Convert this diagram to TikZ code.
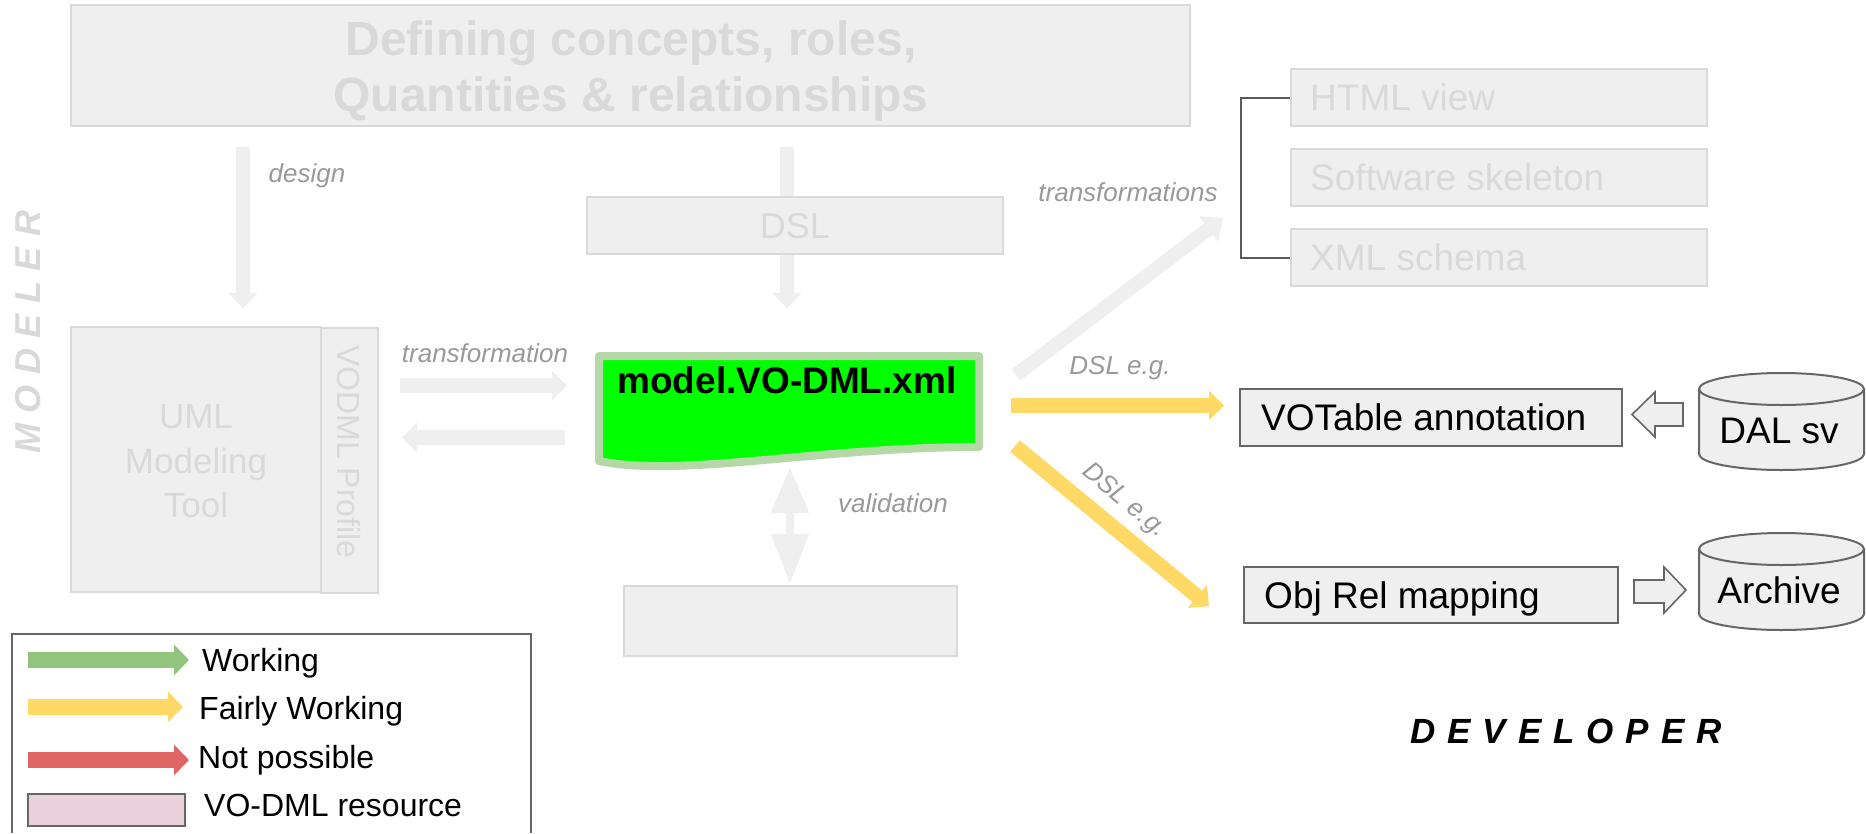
\documentclass[tikz,border=0pt]{standalone}
\usepackage{fontspec}
\setmainfont{Liberation Sans}
\usetikzlibrary{arrows.meta}
\definecolor{ghostfill}{HTML}{EFEFEF}
\definecolor{ghostline}{HTML}{D9D9D9}
\definecolor{labelgray}{HTML}{999999}
\definecolor{darkline}{HTML}{666666}
\definecolor{yellowarrow}{HTML}{FFD966}
\definecolor{greenarrow}{HTML}{93C47D}
\definecolor{redarrow}{HTML}{E06666}
\definecolor{docgreen}{HTML}{00FF00}
\definecolor{docborder}{HTML}{B6D7A8}
\definecolor{pinkres}{HTML}{EAD1DC}
\definecolor{bracketgray}{HTML}{595959}
\begin{document}
\begin{tikzpicture}[x=1pt,y=-1pt,
  ghostbox/.style={draw=ghostline, fill=ghostfill, line width=2pt, inner sep=0pt},
  darkbox/.style={draw=darkline, fill=ghostfill, line width=2pt, inner sep=0pt},
  ghosttext/.style={text=ghostline, inner sep=0pt},
  lbl/.style={text=labelgray, font=\fontsize{26}{30}\selectfont\itshape, inner sep=0pt},
  blacktext/.style={text=black, inner sep=0pt, font=\fontsize{37}{44}\selectfont},
  legtext/.style={text=black, inner sep=0pt, anchor=west, font=\fontsize{32}{38}\selectfont},
  grayarrow/.style={draw=ghostfill, line width=14pt, -{Triangle[length=15pt,width=29pt]}},
  yelarrow/.style={draw=yellowarrow, line width=15pt, -{Triangle[length=15pt,width=29pt]}},
  legarrow/.style={line width=16pt, -{Triangle[length=15pt,width=30pt]}},
  hollow/.style={draw=darkline, fill=ghostfill, line width=1.6pt, line join=miter},
  cyl/.style={draw=darkline, fill=ghostfill, line width=2pt}
]
\fill[white] (0,0) rectangle (1866,833);
\useasboundingbox (0,0) rectangle (1866,833);

% ---------- coordinates for connectors ----------
\coordinate (designS) at (243,147);
\coordinate (designE) at (243,308);
\coordinate (dslS) at (787,147);
\coordinate (dslE) at (787,308);
\coordinate (trS) at (400,385.5);
\coordinate (trE) at (567,385.5);
\coordinate (bkS) at (565,437.5);
\coordinate (bkE) at (402,437.5);
\coordinate (valS) at (790,467);
\coordinate (valE) at (790,584);
\coordinate (tfS) at (1016,375);
\coordinate (tfE) at (1223,218);
\coordinate (yhS) at (1011,405.5);
\coordinate (yhE) at (1224,405.5);
\coordinate (ydS) at (1015,446);
\coordinate (ydE) at (1209,606);

% ---------- gray arrows (drawn under boxes) ----------
\draw[grayarrow] (designS) -- (designE);
\draw[grayarrow] (dslS) -- (dslE);
\draw[grayarrow, line width=15pt] (trS) -- (trE);
\draw[grayarrow, line width=15pt] (bkS) -- (bkE);
\draw[grayarrow, -{Triangle[length=18pt,width=31pt]}] (tfS) -- (tfE);
\draw[draw=ghostfill, line width=8pt, {Triangle[length=46pt,width=36pt]}-{Triangle[length=50pt,width=36pt]}] (valS) -- (valE);

% ---------- top box ----------
\node[ghostbox, minimum width=1119pt, minimum height=121pt] (top) at (630.5,65.5) {};
\node[ghosttext, anchor=base, font=\fontsize{48}{56}\selectfont\bfseries] (topl1) at (631,55) {Defining concepts, roles,};
\node[ghosttext, anchor=base, font=\fontsize{48}{56}\selectfont\bfseries] (topl2) at (631,111) {Quantities \& relationships};

\node[lbl] (designlbl) at (307,176) {design};

% ---------- DSL box ----------
\node[ghostbox, minimum width=416pt, minimum height=57pt] (dsl) at (795,225.5) {};
\node[ghosttext, anchor=base, font=\fontsize{36}{42}\selectfont] (dsltxt) at (795,238) {DSL};

% ---------- MODELER ----------
\node[ghosttext, rotate=90, font=\fontsize{36}{40}\selectfont\bfseries\itshape] (modeler) at (28,332)
  {M\hspace{10.5pt}O\hspace{10.5pt}D\hspace{10.5pt}E\hspace{10.5pt}L\hspace{10.5pt}E\hspace{10.5pt}R};

% ---------- UML box ----------
\node[ghostbox, minimum width=250pt, minimum height=265pt] (uml) at (196,459.5) {};
\node[ghostbox, minimum width=57pt, minimum height=265pt] (profile) at (349.5,460.5) {};
\node[ghosttext, anchor=base, font=\fontsize{35}{42}\selectfont] (uml1) at (196,428) {UML};
\node[ghosttext, anchor=base, font=\fontsize{35}{42}\selectfont] (uml2) at (196,473) {Modeling};
\node[ghosttext, anchor=base, font=\fontsize{35}{42}\selectfont] (uml3) at (196,517) {Tool};
\node[ghosttext, rotate=-90, font=\fontsize{32}{38}\selectfont] (proftxt) at (349,452) {VODML Profile};

\node[lbl] (trlbl) at (485,353) {transformation};

% ---------- model document ----------
\draw[line width=8pt, draw=docborder, fill=docgreen, line join=round]
  (599,356) -- (979,356) -- (979,447) .. controls (820,447) and (680,478) .. (599,461) -- cycle;
\node[inner sep=0pt, anchor=base, font=\fontsize{37}{44}\selectfont\bfseries] (doc) at (787,393) {model.VO-DML.xml};

\node[lbl] (vallbl) at (893,503) {validation};
\node[ghostbox, minimum width=333pt, minimum height=70pt] (valbox) at (790.5,621) {};

% ---------- transformations targets ----------
\node[lbl] (tflbl) at (1128,192) {transformations};
\node[ghostbox, minimum width=416pt, minimum height=57pt] (html) at (1499,97.5) {};
\node[ghostbox, minimum width=416pt, minimum height=57pt] (soft) at (1499,177.5) {};
\node[ghostbox, minimum width=416pt, minimum height=57pt] (xml) at (1499,257.5) {};
\node[ghosttext, anchor=base west, font=\fontsize{37}{44}\selectfont] (htmltxt) at (1310,110) {HTML view};
\node[ghosttext, anchor=base west, font=\fontsize{37}{44}\selectfont] (softtxt) at (1310,190) {Software skeleton};
\node[ghosttext, anchor=base west, font=\fontsize{37}{44}\selectfont] (xmltxt) at (1310,270) {XML schema};
\draw[draw=bracketgray, line width=2pt] (html.west) -- (1241,97.5) -- (1241,257.5) -- (xml.west);

% ---------- DSL e.g. arrows ----------
\draw[yelarrow] (yhS) -- (yhE);
\draw[yelarrow] (ydS) -- (ydE);
\node[lbl] (dsleg1) at (1120,368) {DSL e.g.};
\node[lbl, rotate=-40] (dsleg2) at (1124,501) {DSL e.g.};

% ---------- developer side ----------
\node[darkbox, minimum width=382pt, minimum height=57pt] (votable) at (1431,417.5) {};
\node[blacktext, anchor=base west] (vottxt) at (1261,430) {VOTable annotation};
\node[darkbox, minimum width=374pt, minimum height=56pt] (objrel) at (1431,595) {};
\node[blacktext, anchor=base west] (objtxt) at (1264,608) {Obj Rel mapping};

% DAL sv cylinder
\node[minimum width=165pt, minimum height=97pt, inner sep=0pt] (dal) at (1781.5,421.5) {};
\fill[ghostfill] (1699,389) rectangle (1864,454);
\filldraw[cyl] (1699,389) -- (1699,454)
  .. controls (1699,462.84) and (1735.94,470) .. (1781.5,470)
  .. controls (1827.06,470) and (1864,462.84) .. (1864,454) -- (1864,389);
\filldraw[cyl] (1781.5,389) ellipse [x radius=82.5, y radius=16];
\node[blacktext, anchor=base] (daltxt) at (1779,443) {DAL sv};

% Archive cylinder
\node[minimum width=165pt, minimum height=97pt, inner sep=0pt] (archive) at (1781.5,581.5) {};
\fill[ghostfill] (1699,549) rectangle (1864,614);
\filldraw[cyl] (1699,549) -- (1699,614)
  .. controls (1699,622.84) and (1735.94,630) .. (1781.5,630)
  .. controls (1827.06,630) and (1864,622.84) .. (1864,614) -- (1864,549);
\filldraw[cyl] (1781.5,549) ellipse [x radius=82.5, y radius=16];
\node[blacktext, anchor=base] (archtxt) at (1779,603) {Archive};

% hollow arrows
\draw[hollow] (1632,414.5) -- (1655,392) -- (1655,403) -- (1683,403) -- (1683,426) -- (1655,426) -- (1655,437) -- cycle;
\draw[hollow] (1634,580) -- (1664,580) -- (1664,567) -- (1686,590) -- (1664,613) -- (1664,603) -- (1634,603) -- cycle;

\node[inner sep=0pt, font=\fontsize{35}{40}\selectfont\bfseries\itshape] (developer) at (1566,731)
  {D\hspace{12pt}E\hspace{12pt}V\hspace{12pt}E\hspace{12pt}L\hspace{12pt}O\hspace{12pt}P\hspace{12pt}E\hspace{12pt}R};

% ---------- legend ----------
\draw[draw=darkline, line width=2pt] (12,833) -- (12,634) -- (531,634) -- (531,833);
\coordinate (lgS) at (28,660);
\coordinate (lgE) at (189,660);
\coordinate (lyS) at (28,707);
\coordinate (lyE) at (183,707);
\coordinate (lrS) at (28,760);
\coordinate (lrE) at (189,760);
\draw[legarrow, draw=greenarrow] (lgS) -- (lgE);
\draw[legarrow, draw=yellowarrow] (lyS) -- (lyE);
\draw[legarrow, draw=redarrow] (lrS) -- (lrE);
\node[draw=darkline, fill=pinkres, line width=2.5pt, minimum width=157pt, minimum height=32pt, inner sep=0pt] (legres) at (106.5,810) {};
\node[legtext] (lt1) at (202,663) {Working};
\node[legtext] (lt2) at (199,711) {Fairly Working};
\node[legtext] (lt3) at (198,760) {Not possible};
\node[legtext] (lt4) at (204,805) {VO-DML resource};
\end{tikzpicture}
\end{document}
